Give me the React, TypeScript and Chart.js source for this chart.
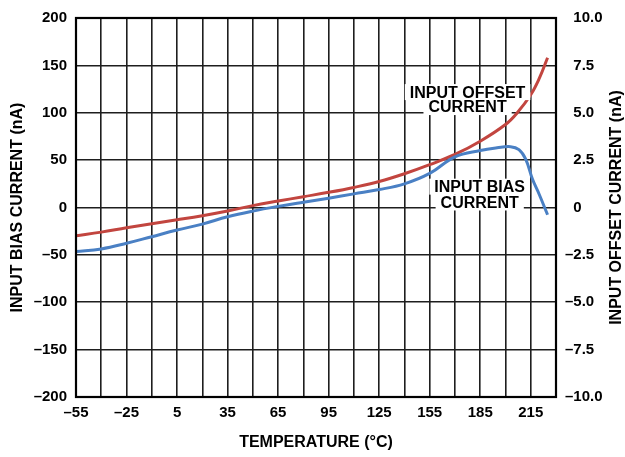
import React, { useEffect, useRef } from "react";
import { Chart, registerables } from "chart.js";

Chart.register(...registerables);

const biasTemps = [-55, -40, -25, -10, 5, 20, 35, 50, 65, 80, 95, 110, 125, 140, 155, 170, 185, 195, 203, 208, 212, 216, 220, 225];
const biasValues = [-46.5, -43.7, -37.8, -30.8, -23.8, -17.5, -9.8, -3.8, 1.2, 5.6, 9.8, 14.4, 18.9, 25, 36, 53.5, 60.2, 63, 64.2, 61, 51, 30, 14, -7.7];

const offsetTemps = [-55, -40, -25, -10, 5, 20, 35, 50, 65, 80, 95, 110, 125, 140, 155, 170, 185, 200, 207, 215, 220, 225];
const offsetValues = [-1.49, -1.3, -1.07, -0.86, -0.65, -0.43, -0.18, 0.1, 0.34, 0.57, 0.8, 1.06, 1.37, 1.78, 2.26, 2.8, 3.5, 4.38, 5.0, 5.95, 6.8, 7.9];

const xTitle = "TEMPERATURE (°C)";
const yLeftTitle = "INPUT BIAS CURRENT (nA)";
const yRightTitle = "INPUT OFFSET CURRENT (nA)";

const offsetLabel = ["INPUT OFFSET", "CURRENT"];
const offsetLabelPos = { x: 177.5, y: [121.8, 106.0] };
const biasLabel = ["INPUT BIAS", "CURRENT"];
const biasLabelPos = { x: 184.7, y: [22, 5.3] };

const FONT = '"Liberation Sans", Arial, Helvetica, sans-serif';
const RED = "#C2453F";
const BLUE = "#4A80C4";

const dash = (v: number) => (v < 0 ? "\u2013" + Math.abs(v) : String(v));

const overlayPlugin = {
  id: "overlay",
  afterDatasetsDraw(chart: any) {
    const { ctx, chartArea, scales } = chart;
    const xs = scales.x;
    const ys = scales.y;
    ctx.save();
    ctx.font = `bold 16px ${FONT}`;
    ctx.textAlign = "center";
    ctx.textBaseline = "middle";
    const drawLabel = (lines: string[], pos: { x: number; y: number[] }) => {
      const cx = xs.getPixelForValue(pos.x);
      lines.forEach((t, i) => {
        const cy = ys.getPixelForValue(pos.y[i]);
        const w = ctx.measureText(t).width;
        ctx.fillStyle = "#fff";
        ctx.fillRect(cx - w / 2 - 5, cy - 8, w + 10, 16);
      });
      lines.forEach((t, i) => {
        const cy = ys.getPixelForValue(pos.y[i]);
        ctx.fillStyle = "#000";
        ctx.fillText(t, cx, cy + 1);
      });
    };
    drawLabel(offsetLabel, offsetLabelPos);
    drawLabel(biasLabel, biasLabelPos);

    ctx.strokeStyle = "#000";
    ctx.lineWidth = 2.2;
    ctx.strokeRect(chartArea.left, chartArea.top, chartArea.right - chartArea.left, chartArea.bottom - chartArea.top);

    ctx.fillStyle = "#000";
    ctx.font = `bold 16px ${FONT}`;
    const cyMid = (chartArea.top + chartArea.bottom) / 2;
    ctx.textAlign = "center";
    ctx.textBaseline = "middle";
    ctx.fillText(xTitle, (chartArea.left + chartArea.right) / 2, 443);
    ctx.save();
    ctx.translate(18, cyMid);
    ctx.rotate(-Math.PI / 2);
    ctx.fillText(yLeftTitle, 0, 0);
    ctx.restore();
    ctx.save();
    ctx.translate(617, cyMid);
    ctx.rotate(-Math.PI / 2);
    ctx.fillText(yRightTitle, 0, 0);
    ctx.restore();
    ctx.restore();
  },
};

export default function App() {
  const ref = useRef<HTMLCanvasElement | null>(null);
  useEffect(() => {
    document.body.style.margin = "0";
    const canvas = ref.current;
    if (!canvas) return;
    const chart = new Chart(canvas, {
      type: "line",
      data: {
        datasets: [
          {
            label: "Input Bias Current",
            data: biasTemps.map((t, i) => ({ x: t, y: biasValues[i] })),
            borderColor: BLUE,
            borderWidth: 3,
            pointRadius: 0,
            tension: 0.4,
            yAxisID: "y",
          },
          {
            label: "Input Offset Current",
            data: offsetTemps.map((t, i) => ({ x: t, y: offsetValues[i] })),
            borderColor: RED,
            borderWidth: 3,
            pointRadius: 0,
            tension: 0.4,
            yAxisID: "y1",
          },
        ],
      },
      options: {
        responsive: false,
        animation: false,
        layout: { padding: { top: 15, left: 0, right: 0, bottom: 0 } },
        plugins: { legend: { display: false }, tooltip: { enabled: false } },
        scales: {
          x: {
            type: "linear",
            min: -55,
            max: 230,
            afterFit: (s: any) => { s.height = 60; },
            ticks: {
              stepSize: 15,
              autoSkip: false,
              maxRotation: 0,
              padding: 7,
              color: "#000",
              font: { family: FONT, size: 15, weight: "bold" },
              callback: (v: any) => {
                const n = Number(v);
                return (n + 55) % 30 === 0 && n <= 215 ? dash(n) : "";
              },
            },
            grid: { color: "#1e1e1e", lineWidth: 1.6, drawTicks: false },
            border: { display: false },
          },
          y: {
            type: "linear",
            position: "left",
            min: -200,
            max: 200,
            afterFit: (s: any) => { s.width = 76; },
            ticks: {
              stepSize: 50,
              padding: 9,
              color: "#000",
              font: { family: FONT, size: 15, weight: "bold" },
              callback: (v: any) => dash(Number(v)),
            },
            grid: { color: "#1e1e1e", lineWidth: 1.6, drawTicks: false },
            border: { display: false },
          },
          y1: {
            type: "linear",
            position: "right",
            min: -10,
            max: 10,
            afterFit: (s: any) => { s.width = 69; },
            ticks: {
              stepSize: 2.5,
              padding: 9,
              color: "#000",
              font: { family: FONT, size: 15, weight: "bold" },
              callback: (v: any) => {
                const n = Number(v);
                if (n === 0) return "\u20070";
                return (n < 0 ? "\u2013" : "\u2007") + Math.abs(n).toFixed(1);
              },
            },
            grid: { display: false, drawTicks: false },
            border: { display: false },
          },
        },
      },
      plugins: [overlayPlugin],
    } as any);
    return () => chart.destroy();
  }, []);
  return <canvas ref={ref} width={625} height={457} style={{ display: "block" }} />;
}
